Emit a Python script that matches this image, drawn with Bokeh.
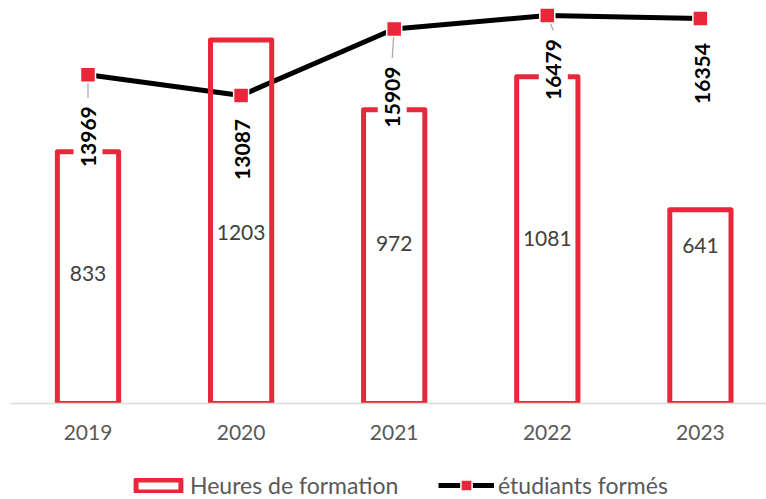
import math
from bokeh.plotting import figure
from bokeh.layouts import column
from bokeh.models import Range1d, FixedTicker, Legend, LegendItem
from bokeh.core.properties import value
from bokeh.embed import file_html
from bokeh.resources import INLINE

# ---- data ----
years = ["2019", "2020", "2021", "2022", "2023"]
hours = [833, 1203, 972, 1081, 641]
students = [13969, 13087, 15909, 16479, 16354]
series_names = ["Heures de formation", "étudiants formés"]

# ---- label placement styles (pixels) ----
bar_label_lift_px = [130, 171, 160, 165, 158]
line_label_drop_px = [62, 54, 68, 54, 55]
line_label_dx_px = [0, 1, -2, 6, 2]
leader_shown = [True, False, True, True, False]

RED = "#E8283A"
FONT = "Lato"
NAN = float("nan")

W = 766
H_MAIN = 448
H_LEG = 51
BORDER_L = 10
BORDER_B = H_MAIN - 403
FRAME_W = W - BORDER_L
FRAME_H = H_MAIN - BORDER_B
X_STEP = 153.1
X0_PX = 77.5
x_start = -X0_PX / X_STEP
x_end = x_start + FRAME_W / X_STEP
BAR_END = FRAME_H / 0.30216
LINE_END = FRAME_H / 0.02354
bar_ppu = FRAME_H / BAR_END
line_ppu = FRAME_H / LINE_END

xs = list(range(len(years)))

p = figure(width=W, height=H_MAIN, x_range=Range1d(x_start, x_end), y_range=Range1d(0, BAR_END),
           output_backend="svg", toolbar_location=None, y_axis_location=None,
           min_border_left=BORDER_L, min_border_right=0, min_border_top=0,
           min_border_bottom=BORDER_B)
p.extra_y_ranges = {"line": Range1d(0, LINE_END)}
p.outline_line_color = None
p.grid.visible = False

# line
p.line(xs, students, y_range_name="line", line_color="black", line_width=5)

# leader lines
lx0, ly0, lx1, ly1 = [], [], [], []
HALF_LABEL = 29
for i, show in enumerate(leader_shown):
    if show:
        lx0.append(xs[i])
        ly0.append(students[i])
        lx1.append(xs[i] + line_label_dx_px[i] / X_STEP)
        ly1.append(students[i] - (line_label_drop_px[i] - HALF_LABEL - 10) / line_ppu)
p.segment(lx0, ly0, lx1, ly1, y_range_name="line", line_color="#a6a6a6", line_width=1.2)

p.scatter(xs, students, y_range_name="line", marker="square", size=15,
          fill_color=RED, line_color="white", line_width=1.5)

# bars
p.vbar(x=xs, top=hours, bottom=0, width=0.4, fill_color=None,
       line_color=RED, line_width=5, line_join="round")

# bar labels
p.text(x=xs, y=[lift / bar_ppu for lift in bar_label_lift_px], text=[str(h) for h in hours],
       text_font=value(FONT), text_font_size="21px", text_color="#404040",
       text_align="center", text_baseline="middle")

# line labels (rotated, bold, white box)
p.text(x=[x + dx / X_STEP for x, dx in zip(xs, line_label_dx_px)],
       y=[s - d / line_ppu for s, d in zip(students, line_label_drop_px)],
       text=[str(s) for s in students], y_range_name="line", angle=math.pi / 2,
       text_font=value(FONT), text_font_size="21px", text_font_style="bold",
       text_color="black", text_align="center", text_baseline="middle",
       background_fill_color="white", padding=7)

# x axis
ax = p.xaxis[0]
ax.ticker = FixedTicker(ticks=xs)
ax.major_label_overrides = {i: y for i, y in enumerate(years)}
ax.major_tick_line_color = None
ax.minor_tick_line_color = None
ax.axis_line_color = "#d9d9d9"
ax.axis_line_width = 1.5
ax.major_label_text_font = FONT
ax.major_label_text_font_size = "21px"
ax.major_label_text_color = "#595959"
ax.major_label_standoff = 15

# ---- legend strip ----
lg = figure(width=W, height=H_LEG, x_range=Range1d(0, 1), y_range=Range1d(0, 1),
            output_backend="svg", toolbar_location=None, x_axis_location=None,
            y_axis_location=None, min_border=0)
lg.outline_line_color = None
lg.grid.visible = False
bar_proxy = lg.vbar(x=[NAN], top=[NAN], bottom=[NAN], width=0.1, fill_color=None,
                    line_color=RED, line_width=5, line_join="round")
line_proxy = lg.line([NAN, NAN], [NAN, NAN], line_color="black", line_width=5)
mark_proxy = lg.scatter([NAN], [NAN], marker="square", size=15,
                        fill_color=RED, line_color="white", line_width=1.5)

common = dict(border_line_color=None, background_fill_alpha=0, padding=0, margin=0,
              label_text_font=FONT, label_text_font_size="23px",
              label_text_color="#595959", label_standoff=4, glyph_width=56)
leg1 = Legend(items=[LegendItem(label=series_names[0], renderers=[bar_proxy])],
              location=(120, 0), glyph_height=15, **common)
leg2 = Legend(items=[LegendItem(label=series_names[1], renderers=[line_proxy, mark_proxy])],
              location=(428, 0), glyph_height=28, **common)
lg.add_layout(leg1, "center")
lg.add_layout(leg2, "center")

layout = column(p, lg, spacing=0)
open("out.html", "w").write(file_html(layout, INLINE))
